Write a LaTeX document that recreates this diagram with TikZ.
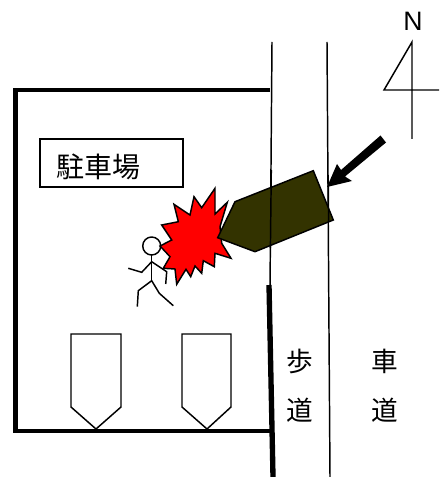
\documentclass[tikz,border=0pt]{standalone}
\usepackage{fontspec}
\setmainfont{Liberation Sans}
\newfontfamily\cjk{Noto Sans CJK JP}
\begin{document}
\begin{tikzpicture}[x=0.75pt,y=-0.75pt,
  thin line/.style={draw=black,line width=1.1pt},
  wall/.style={draw=black,line width=3.7pt},
  stall/.style={draw=black,line width=1.1pt,fill=white},
  cjklabel/.style={inner sep=0pt,font=\cjk\fontsize{20}{20}\selectfont,text=black}]
\useasboundingbox (0,0) rectangle (439,477);
% road lines
\draw[thin line] (272,42) -- (270,290);
\draw[thin line] (327,42) -- (330,477);
% walls
\draw[wall] (270,90) -- (15.5,90) -- (15.5,431) -- (272,431);
\draw[draw=black,line width=4pt] (269,285) -- (273,477);
% sign box
\node[draw=black,line width=1.1pt,minimum width=107pt,minimum height=36pt,inner sep=0pt] (lot) at (111.5,163) {};
\node[inner sep=0pt,font=\cjk\fontsize{21}{21}\selectfont] (lotlabel) at (98,167) {駐車場};
% stalls
\draw[stall] (71,334) -- (121,334) -- (121,407) -- (96,429) -- (71,407) -- cycle;
\draw[stall] (182,334) -- (231,334) -- (231,407) -- (207,429) -- (182,407) -- cycle;
% person
\draw[thin line] (151.7,246) circle (9);
\draw[thin line] (151.7,255) -- (151.7,280.7);
\draw[thin line] (128.3,268.3) -- (141.7,272.3) -- (151.7,261.7) -- (166.7,271.7) -- (165.7,284);
\draw[thin line] (137.3,306.7) -- (138.3,290.7) -- (151.7,280.7) -- (159.3,293.3) -- (173.3,305.7);
% explosion
\draw[draw=black,line width=1.1pt,fill=red] (215,188.3) -- (215,214) -- (227.3,202.3) -- (220,226.7) -- (221.7,243.3) -- (231,258.3) -- (215,253.3) -- (214.3,266.7) -- (203.3,260.7) -- (201.7,273.3) -- (195,266) -- (190.7,276.7) -- (186,269.3) -- (176.7,284.3) -- (175,269) -- (163.3,268.3) -- (170,256.7) -- (160,246) -- (171.7,240) -- (161.7,225) -- (178.3,221.7) -- (174,204.3) -- (190,215) -- (194,196.7) -- (201.7,207.7) -- cycle;
% car
\draw[draw=black,line width=1.1pt,fill={rgb,255:red,51;green,51;blue,0}] (235,201.7) -- (313.3,170.7) -- (333.3,220) -- (255,251.7) -- (217.7,237.7) -- cycle;
\draw[thin line] (271.3,170) -- (270.4,248);
\draw[thin line] (328.2,175) -- (328.6,222);
% arrow
\fill[black] (380.5,135.5) -- (386,142.5) -- (345,176.5) -- (352,181) -- (327,187) -- (337,164) -- (341,170) -- cycle;
% north
\node[inner sep=0pt,font=\fontsize{20}{20}\selectfont] (north) at (413,21) {N};
\draw[thin line,line join=miter] (412,139) -- (412,42) -- (384,90) -- (439,90);
% road labels
\node[cjklabel] (a) at (300,361) {歩};
\node[cjklabel] (b) at (300,410) {道};
\node[cjklabel] (c) at (385,361) {車};
\node[cjklabel] (d) at (385,410) {道};
\end{tikzpicture}
\end{document}
